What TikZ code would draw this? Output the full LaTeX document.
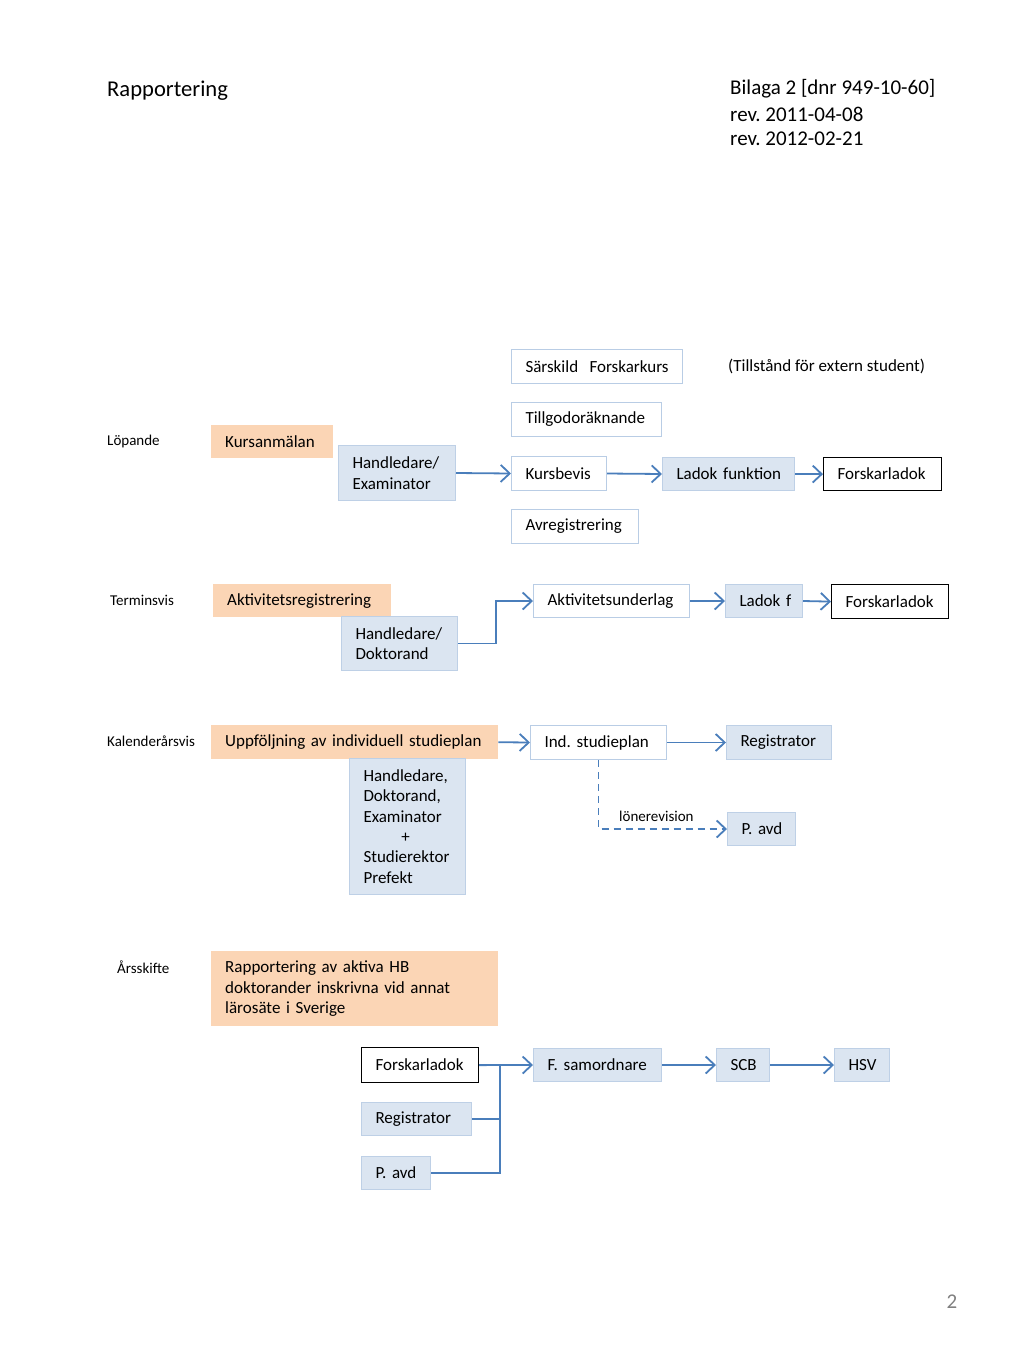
\documentclass[tikz,border=0pt]{standalone}
\usepackage{fontspec}
\setmainfont{Carlito}
\usetikzlibrary{arrows.meta}
\frenchspacing
\definecolor{orfill}{RGB}{251,213,181}
\definecolor{blfill}{RGB}{219,229,241}
\definecolor{blbord}{RGB}{190,208,230}
\definecolor{wbord}{RGB}{185,205,229}
\definecolor{arrblue}{RGB}{74,126,187}
\tikzset{
  basebox/.style={rectangle, anchor=north west, inner xsep=0pt, inner ysep=0pt,
    font=\fontsize{17}{20.4}\selectfont,
    execute at begin node={\parindent=0pt\leftskip=14pt\rightskip=0pt plus 1fil\hyphenpenalty=10000}},
  sz/.style 2 args={minimum width=#1pt, text width=#1pt, minimum height=#2pt},
  wbox/.style={basebox, draw=wbord, fill=white, line width=1pt},
  bbox/.style={basebox, draw=blbord, fill=blfill, line width=1pt},
  obox/.style={basebox, fill=orfill},
  kbox/.style={basebox, draw=black, fill=white, line width=1.2pt},
  sidelbl/.style={anchor=west, inner sep=0pt, font=\fontsize{15}{18}\selectfont},
  conn/.style={draw=arrblue, line width=1.8pt},
  arr/.style={conn, -{Straight Barb[length=9pt,width=17pt,line width=1.8pt]}},
}
\begin{document}
\begin{tikzpicture}[x=1pt,y=-1pt]
\useasboundingbox (0,0) rectangle (1024,1365);
% header
\node[anchor=west, inner sep=0pt, font=\fontsize{22.6}{25}\selectfont] (title) at (107,91) {Rapportering};
\node[anchor=west, inner sep=0pt, font=\fontsize{21}{25}\selectfont] (h1) at (730,89) {Bilaga 2 [dnr 949-10-60]};
\node[anchor=west, inner sep=0pt, font=\fontsize{21}{25}\selectfont] (h2) at (730,114) {rev. 2011-04-08};
\node[anchor=west, inner sep=0pt, font=\fontsize{21}{25}\selectfont] (h3) at (730,139) {rev. 2012-02-21};
\node[anchor=center, inner sep=0pt, text=gray, font=\fontsize{21}{24}\selectfont] (pg) at (952,1302) {2};

% Löpande
\node[sidelbl] (l1) at (107,441) {Löpande};
\node[wbox, sz={171}{34}] (sf) at (511,349) {Särskild\ \ Forskarkurs};
\node[anchor=west, inner sep=0pt, font=\fontsize{17}{20}\selectfont] (tfe) at (728,366) {(Tillstånd för extern student)};
\node[wbox, sz={150}{34}] (tg) at (511,402) {Tillgodoräknande};
\node[obox, sz={122}{33}] (ka) at (211,425) {Kursanmälan};
\node[bbox, sz={117}{55}] (he) at (338,445) {Handledare/\\Examinator};
\node[wbox, sz={95}{34}] (kb) at (511,456) {Kursbevis};
\node[bbox, sz={132}{33}] (lf) at (662,457) {Ladok funktion};
\node[kbox, sz={118}{33}] (fl1) at (823,457) {Forskarladok};
\node[wbox, sz={127}{34}] (av) at (511,509) {Avregistrering};
\draw[arr] (he.east) -- (kb.west);
\draw[arr] (kb.east) -- (lf.west);
\draw[arr] (lf.east) -- (fl1.west);

% Terminsvis
\node[sidelbl] (l2) at (110,600) {Terminsvis};
\node[obox, sz={178}{33}] (ar) at (213,584) {Aktivitetsregistrering};
\node[bbox, sz={116}{54}] (hd) at (341,616) {Handledare/\\Doktorand};
\node[wbox, sz={156}{33}] (au) at (533,584) {Aktivitetsunderlag};
\node[bbox, sz={77}{33}] (lff) at (725,584) {Ladok f};
\node[kbox, sz={117}{34}] (fl2) at (831,584) {Forskarladok};
\draw[arr] (hd.east) -- ++(38,0) |- (au.west);
\draw[arr] (au.east) -- (lff.west);
\draw[arr] (lff.east) -- (fl2.west);

% Kalenderårsvis
\node[sidelbl] (l3) at (107,741) {Kalenderårsvis};
\node[obox, sz={287}{34}] (up) at (211,725) {Uppföljning av individuell studieplan};
\node[bbox, sz={116}{136}] (hl) at (349,758) {Handledare,\\Doktorand,\\Examinator\\\makebox[84pt]{+}\\Studierektor\\Prefekt};
\node[wbox, sz={136}{34}] (is) at (530,725) {Ind. studieplan};
\node[bbox, sz={105}{34}] (rg) at (726,725) {Registrator};
\node[bbox, sz={68}{33}] (pa) at (727,812) {P. avd};
\draw[arr] (up.east) -- (is.west);
\draw[arr] (is.east) -- (rg.west);
\draw[arr, dash pattern=on 7pt off 5pt] (is.south) |- (pa.west);
\node[sidelbl] (lr) at (619,816) {lönerevision};

% Årsskifte
\node[sidelbl] (l4) at (117,967) {Årsskifte};
\node[obox, sz={287}{75}] (ra) at (211,951) {Rapportering av aktiva HB\\doktorander inskrivna vid annat\\lärosäte i Sverige};
\node[kbox, sz={117}{35}] (fl3) at (361,1047) {Forskarladok};
\node[bbox, sz={110}{33}] (rg2) at (361,1102) {Registrator};
\node[bbox, sz={69}{33}] (pa2) at (361,1156) {P. avd};
\node[bbox, sz={128}{33}] (fs) at (533,1048) {F. samordnare};
\node[bbox, sz={53}{33}] (scb) at (716,1048) {SCB};
\node[bbox, sz={55}{33}] (hsv) at (834,1048) {HSV};
\coordinate (j) at (500,1064.5);
\draw[arr] (fl3.east) -- (fs.west);
\draw[conn] (rg2.east) -| (j);
\draw[conn] (pa2.east) -| (j);
\draw[arr] (fs.east) -- (scb.west);
\draw[arr] (scb.east) -- (hsv.west);
\end{tikzpicture}
\end{document}
